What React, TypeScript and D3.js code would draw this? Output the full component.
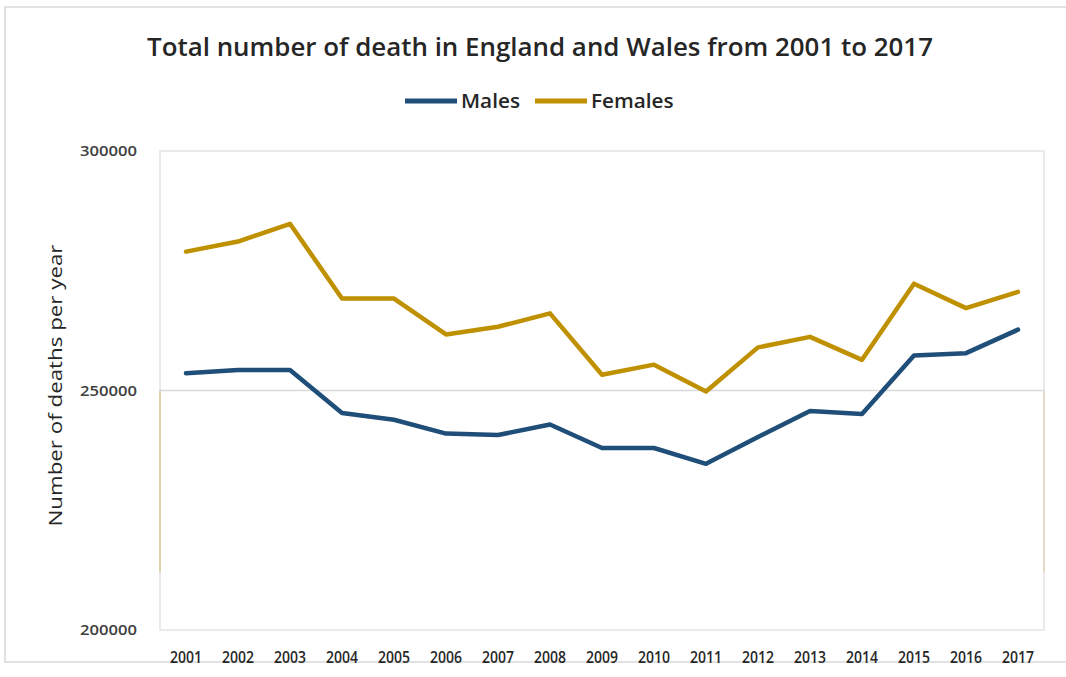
import React from "react";
import * as d3 from "d3";

// Annual deaths in England and Wales, by sex
const years = ["2001","2002","2003","2004","2005","2006","2007","2008","2009","2010","2011","2012","2013","2014","2015","2016","2017"];
const males = [253600, 254300, 254300, 245300, 243900, 241000, 240700, 242900, 238000, 238000, 234700, 240300, 245700, 245100, 257300, 257800, 262700];
const females = [279000, 281100, 284800, 269200, 269200, 261700, 263300, 266100, 253300, 255400, 249800, 259000, 261200, 256400, 272300, 267200, 270600];
const yTicks = [200000, 250000, 300000];
const seriesNames = ["Males", "Females"];
const seriesColors = ["#1f4e79", "#bf9000"];

const W = 1066;
const H = 677;
const plot = { left: 160, right: 1044, top: 151, bottom: 630 };

export default function App() {
  const x = d3.scaleBand<string>().domain(years).range([plot.left, plot.right]);
  const y = d3.scaleLinear().domain([200000, 300000]).range([plot.bottom, plot.top]);
  const cx = (yr: string) => (x(yr) ?? 0) + x.bandwidth() / 2;
  const line = d3
    .line<number>()
    .x((_, i) => cx(years[i]))
    .y((v) => y(v));
  const series = [males, females];
  const font = "'Open Sans', 'Noto Sans', sans-serif";

  return (
    <svg
      width={W}
      height={H}
      style={{ position: "absolute", left: 0, top: 0, background: "#fff" }}
      fontFamily={font}
    >
      <rect x={5} y={7} width={1070} height={655} fill="#fff" stroke="#d9d9d9" strokeWidth={1.5} />

      <text x={540} y={56} textAnchor="middle" fontSize={26} fontWeight={600} fill="#262626"
        textLength={786} lengthAdjust="spacingAndGlyphs">
        Total number of death in England and Wales from 2001 to 2017
      </text>

      {/* legend */}
      {seriesNames.map((name, i) => {
        const lx = [405, 535][i];
        return (
          <g key={name}>
            <line x1={lx} x2={lx + 52} y1={101} y2={101} stroke={seriesColors[i]} strokeWidth={5} />
            <text x={lx + 56} y={108} fontSize={19} fontWeight={600} fill="#262626"
              textLength={name.length * 11.8} lengthAdjust="spacingAndGlyphs">
              {name}
            </text>
          </g>
        );
      })}

      {/* plot frame and gridline */}
      <rect x={plot.left} y={plot.top} width={plot.right - plot.left} height={plot.bottom - plot.top}
        fill="none" stroke="#e3e3e3" strokeWidth={1.5} />
      {yTicks.slice(1, -1).map((t) => (
        <line key={t} x1={plot.left} x2={plot.right} y1={y(t)} y2={y(t)} stroke="#d9d9d9" strokeWidth={1.5} />
      ))}
      <line x1={plot.left} x2={plot.left} y1={y(250000)} y2={y(212000)} stroke="#d8c27a" strokeWidth={1.5} opacity={0.7} />
      <line x1={plot.right} x2={plot.right} y1={y(250000)} y2={y(212000)} stroke="#dcc9a8" strokeWidth={1.5} opacity={0.6} />

      {/* y ticks */}
      {yTicks.map((t) => (
        <text key={t} x={137} y={y(t) + 5} textAnchor="end" fontSize={14} fontWeight={600} fill="#404040"
          textLength={57} lengthAdjust="spacingAndGlyphs">
          {t}
        </text>
      ))}
      <text transform={`translate(62,${(plot.top + plot.bottom) / 2 - 5}) rotate(-90)`} textAnchor="middle"
        fontSize={19} fontWeight={500} fill="#262626" textLength={282} lengthAdjust="spacingAndGlyphs">
        Number of deaths per year
      </text>

      {/* x ticks */}
      {years.map((yr) => (
        <text key={yr} x={cx(yr)} y={663} textAnchor="middle" fontSize={16} fontWeight={600} fill="#262626"
          textLength={32} lengthAdjust="spacingAndGlyphs">
          {yr}
        </text>
      ))}

      {/* series */}
      {series.map((vals, i) => (
        <path key={seriesNames[i]} d={line(vals) ?? ""} fill="none" stroke={seriesColors[i]}
          strokeWidth={4.5} strokeLinejoin="round" strokeLinecap="round" />
      ))}
    </svg>
  );
}
